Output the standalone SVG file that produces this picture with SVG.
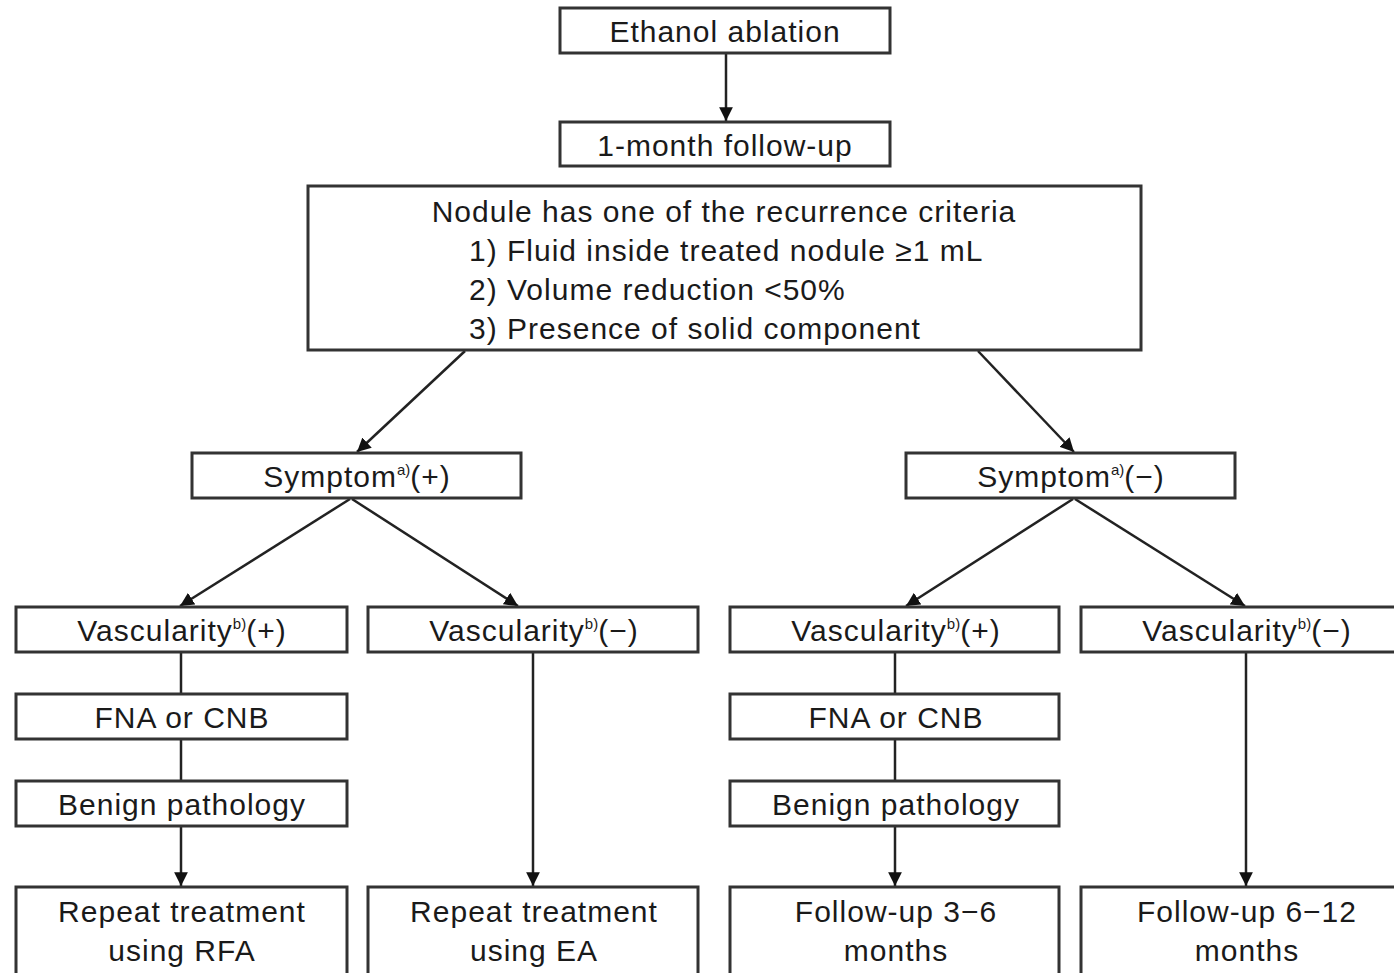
<svg xmlns="http://www.w3.org/2000/svg" width="1394" height="973" viewBox="0 0 1394 973">
<defs>
<marker id="ah" viewBox="0 0 10 10" refX="10" refY="5" markerWidth="5.5" markerHeight="5.5" orient="auto-start-reverse" markerUnits="strokeWidth">
<path d="M0,0 L10,5 L0,10 Z" fill="#111"/>
</marker>
<style>
.b{fill:#fff;stroke:#333;stroke-width:3}
.t{font-family:"Liberation Sans",Arial,sans-serif;font-size:30px;letter-spacing:1px;fill:#1a1a1a;text-anchor:middle}
.l{font-family:"Liberation Sans",Arial,sans-serif;font-size:30px;letter-spacing:1px;fill:#1a1a1a}
.s{font-size:15px;letter-spacing:0}
.c{stroke:#222;stroke-width:2.5;fill:none}
.a{marker-end:url(#ah)}
</style>
</defs>
<rect width="1394" height="973" fill="#fff"/>
<g id="connectors">
<line class="c a" x1="726" y1="53" x2="726" y2="121"/>
<line class="c a" x1="465" y1="351" x2="357" y2="452"/>
<line class="c a" x1="978" y1="351" x2="1074" y2="452"/>
<line class="c a" x1="350" y1="499" x2="180" y2="606"/>
<line class="c a" x1="352" y1="499" x2="518" y2="606"/>
<line class="c a" x1="1073" y1="499" x2="906" y2="606"/>
<line class="c a" x1="1075" y1="499" x2="1245" y2="606"/>
<line class="c" x1="181" y1="652" x2="181" y2="694"/>
<line class="c" x1="181" y1="739" x2="181" y2="781"/>
<line class="c a" x1="181" y1="826" x2="181" y2="886"/>
<line class="c a" x1="533" y1="652" x2="533" y2="886"/>
<line class="c" x1="895" y1="652" x2="895" y2="694"/>
<line class="c" x1="895" y1="739" x2="895" y2="781"/>
<line class="c a" x1="895" y1="826" x2="895" y2="886"/>
<line class="c a" x1="1246" y1="652" x2="1246" y2="886"/>
</g>
<g id="n-ethanol"><rect class="b" x="560" y="8" width="330" height="45"/><text class="t" x="725" y="42">Ethanol ablation</text></g>
<g id="n-followup1"><rect class="b" x="560" y="122" width="330" height="44"/><text class="t" x="725" y="156">1-month follow-up</text></g>
<g id="n-criteria"><rect class="b" x="308" y="186" width="833" height="164"/>
<text class="t" x="724" y="222">Nodule has one of the recurrence criteria</text>
<text class="l" x="469" y="261">1) Fluid inside treated nodule ≥1 mL</text>
<text class="l" x="469" y="300">2) Volume reduction &lt;50%</text>
<text class="l" x="469" y="339">3) Presence of solid component</text>
</g>
<g id="n-symp-pos"><rect class="b" x="192" y="453" width="329" height="45"/><text class="t" x="357" y="487">Symptom<tspan class="s" dy="-12">a)</tspan><tspan dy="12">(+)</tspan></text></g>
<g id="n-symp-neg"><rect class="b" x="906" y="453" width="329" height="45"/><text class="t" x="1071" y="487">Symptom<tspan class="s" dy="-12">a)</tspan><tspan dy="12">(−)</tspan></text></g>
<g id="n-vasc-pos-l"><rect class="b" x="16" y="607" width="331" height="45"/><text class="t" x="182" y="641">Vascularity<tspan class="s" dy="-12">b)</tspan><tspan dy="12">(+)</tspan></text></g>
<g id="n-vasc-neg-l"><rect class="b" x="368" y="607" width="330" height="45"/><text class="t" x="534" y="641">Vascularity<tspan class="s" dy="-12">b)</tspan><tspan dy="12">(−)</tspan></text></g>
<g id="n-vasc-pos-r"><rect class="b" x="730" y="607" width="329" height="45"/><text class="t" x="896" y="641">Vascularity<tspan class="s" dy="-12">b)</tspan><tspan dy="12">(+)</tspan></text></g>
<g id="n-vasc-neg-r"><rect class="b" x="1081" y="607" width="330" height="45"/><text class="t" x="1247" y="641">Vascularity<tspan class="s" dy="-12">b)</tspan><tspan dy="12">(−)</tspan></text></g>
<g id="n-fna-l"><rect class="b" x="16" y="694" width="331" height="45"/><text class="t" x="182" y="728">FNA or CNB</text></g>
<g id="n-fna-r"><rect class="b" x="730" y="694" width="329" height="45"/><text class="t" x="896" y="728">FNA or CNB</text></g>
<g id="n-benign-l"><rect class="b" x="16" y="781" width="331" height="45"/><text class="t" x="182" y="815">Benign pathology</text></g>
<g id="n-benign-r"><rect class="b" x="730" y="781" width="329" height="45"/><text class="t" x="896" y="815">Benign pathology</text></g>
<g id="n-rfa"><rect class="b" x="16" y="887" width="331" height="100"/><text class="t" x="182" y="922">Repeat treatment</text><text class="t" x="182" y="961">using RFA</text></g>
<g id="n-ea"><rect class="b" x="368" y="887" width="330" height="100"/><text class="t" x="534" y="922">Repeat treatment</text><text class="t" x="534" y="961">using EA</text></g>
<g id="n-fu36"><rect class="b" x="730" y="887" width="329" height="100"/><text class="t" x="896" y="922">Follow-up 3−6</text><text class="t" x="896" y="961">months</text></g>
<g id="n-fu612"><rect class="b" x="1081" y="887" width="330" height="100"/><text class="t" x="1247" y="922">Follow-up 6−12</text><text class="t" x="1247" y="961">months</text></g>
</svg>
